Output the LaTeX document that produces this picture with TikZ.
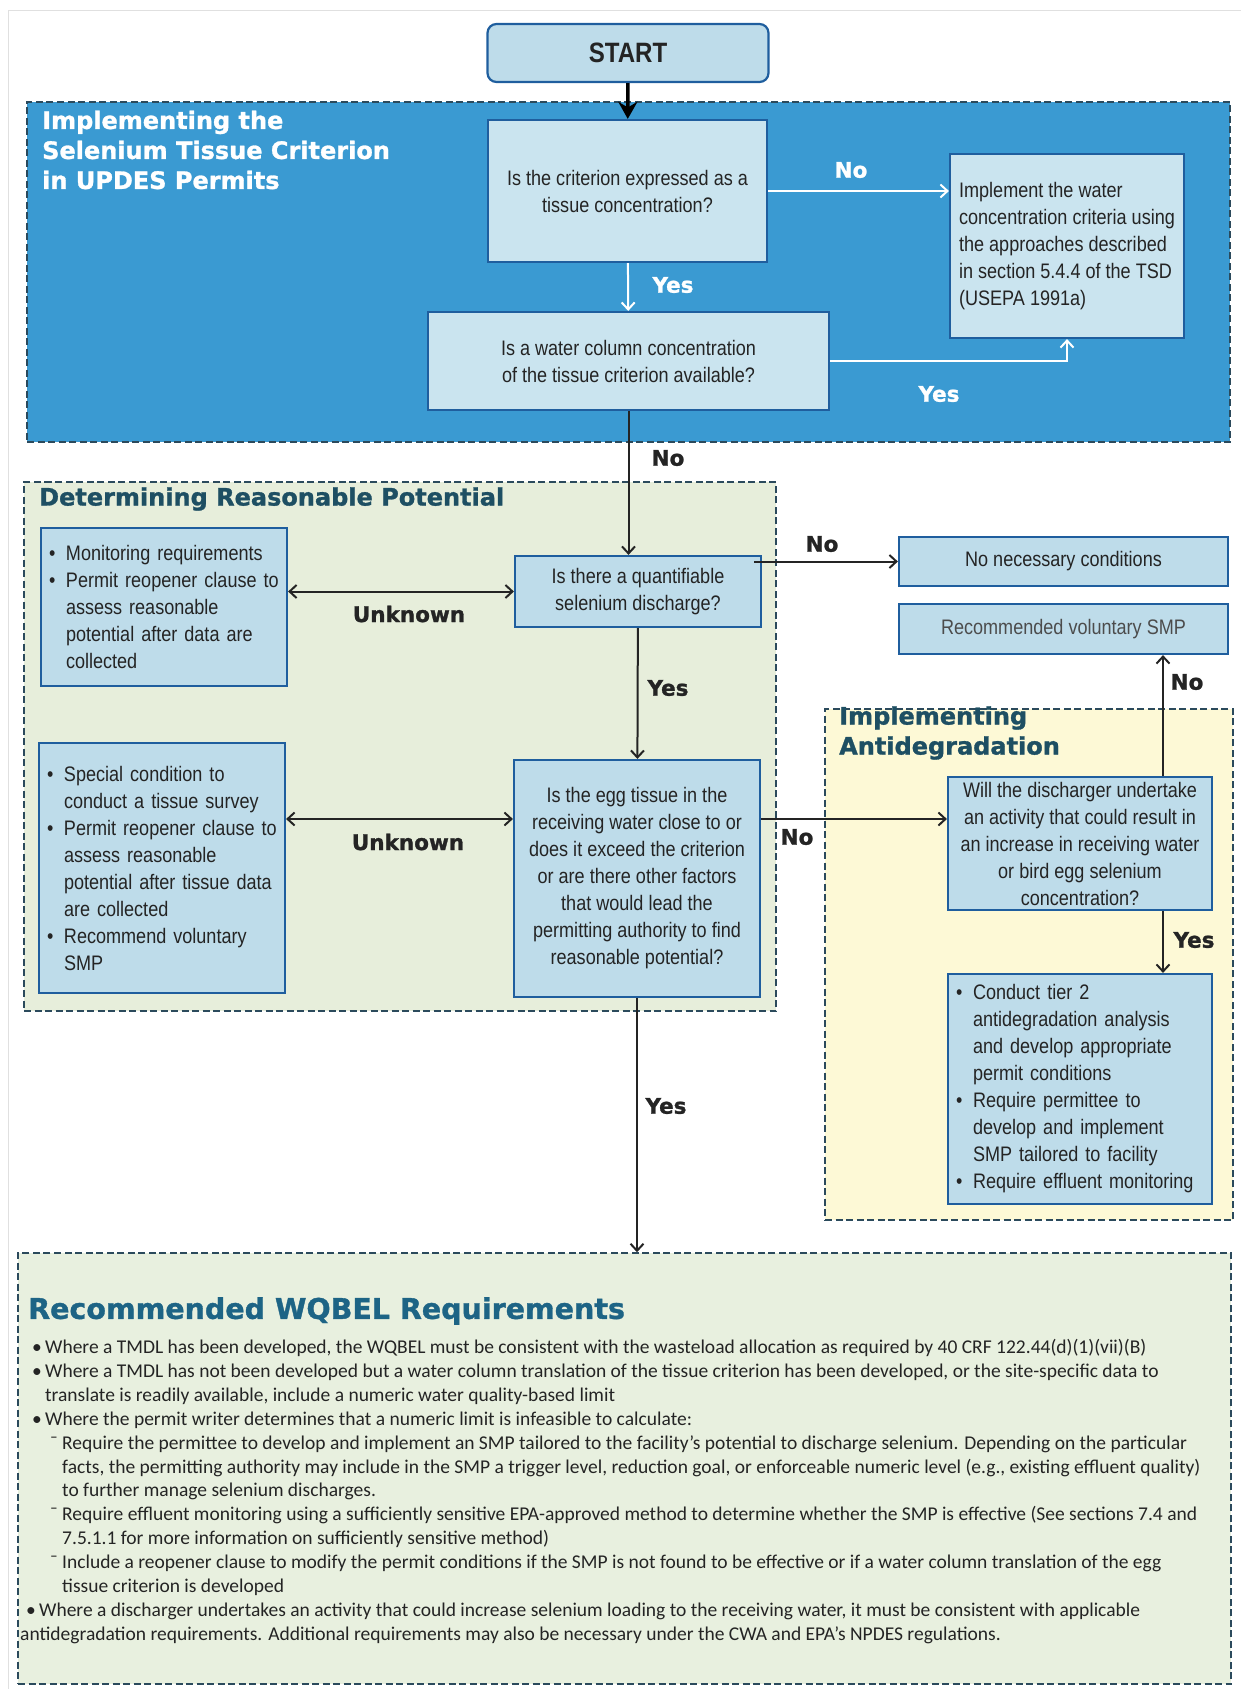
\documentclass[tikz,border=0pt]{standalone}
\usepackage{fontspec}
\setmainfont{Liberation Sans}
\newfontfamily\narrowfont[FakeStretch=0.86]{Liberation Sans}
\newfontfamily\heavyfont[BoldFeatures={FakeBold=1.2}]{DejaVu Sans}
\newfontfamily\notefont{Carlito}
\usepackage{tikz}
\usetikzlibrary{arrows.meta,positioning,calc,backgrounds}
\usepackage{xcolor}
\definecolor{regionblue}{HTML}{3A9AD2}
\definecolor{boxfill}{HTML}{BEDCEA}
\definecolor{boxfilllt}{HTML}{CAE4EF}
\definecolor{boxline}{HTML}{1F5E9E}
\definecolor{rpgreen}{HTML}{E7EEDB}
\definecolor{adyellow}{HTML}{FDF9D6}
\definecolor{wqgreen}{HTML}{E8F0DF}
\definecolor{dashline}{HTML}{2B4A5C}
\definecolor{headteal}{HTML}{1E4F63}
\definecolor{wqteal}{HTML}{1D6485}
\definecolor{inktxt}{HTML}{242424}

\newcommand{\lbul}{\makebox[17pt][l]{\textbullet}}
\newcommand{\lind}{\hspace*{17pt}}
\newcommand{\nbul}{\makebox[13pt][l]{\textbullet}}
\newcommand{\ndash}{\makebox[12pt][l]{¯}}

\begin{document}
\begin{tikzpicture}[x=1pt, y=-1pt,
    box/.style={draw=boxline, line width=2.2pt, fill=boxfill, inner sep=0pt, align=center,
        text=inktxt, font=\narrowfont\fontsize{21}{27}\selectfont},
    listbox/.style={box, align=left, inner xsep=8pt},
    region/.style={draw=dashline, line width=1.6pt, dash pattern=on 7pt off 3.5pt, inner sep=0pt},
    heading/.style={font=\heavyfont\bfseries\fontsize{24}{30}\selectfont, align=left, inner sep=0pt},
    lbl/.style={font=\heavyfont\bfseries\fontsize{21.5}{24}\selectfont, text=inktxt, inner sep=0pt},
    flow/.style={line width=2pt, draw=inktxt, -{Straight Barb[length=7pt,width=13pt]}},
    dflow/.style={line width=2pt, draw=inktxt,
        {Straight Barb[length=7pt,width=13pt]}-{Straight Barb[length=7pt,width=13pt]}},
    wflow/.style={flow, draw=white}
]
\useasboundingbox (0,0) rectangle (1241,1689);
\draw[black!12, line width=1pt] (1241,10) -- (8,10) -- (8,1689);

% Regions
\node[region, fill=regionblue, minimum width=1203pt, minimum height=340pt] (tissuereg) at (628.5,272) {};
\node[region, fill=rpgreen, minimum width=752pt, minimum height=529pt] (rpreg) at (400,746.5) {};
\node[region, fill=adyellow, minimum width=408pt, minimum height=511pt] (adreg) at (1029,964.5) {};
\node[region, fill=wqgreen, minimum width=1213pt, minimum height=431pt] (wqreg) at (624.5,1468.5) {};

% Headings
\node[heading, text=white, anchor=west] (tissuehead) at (42,150)
    {Implementing the\\Selenium Tissue Criterion\\in UPDES Permits};
\node[heading, text=headteal, anchor=west] (rphead) at (39,499) {Determining Reasonable Potential};
\node[heading, text=headteal, anchor=west] (adhead) at (839,733) {Implementing\\Antidegradation};
\node[heading, text=wqteal, anchor=west, font=\heavyfont\bfseries\fontsize{28.5}{32}\selectfont]
    (wqhead) at (28,1311) {Recommended WQBEL Requirements};

% Boxes
\node[box, rounded corners=9pt, fill=boxfill, minimum width=281pt, minimum height=58pt,
    font=\narrowfont\bfseries\fontsize{28}{30}\selectfont] (start) at (628,53) {START};
\node[box, fill=boxfilllt, minimum width=279pt, minimum height=142pt] (q1) at (627.5,191)
    {Is the criterion expressed as a\\tissue concentration?};
\node[listbox, fill=boxfilllt, minimum width=234pt, minimum height=184pt] (impl) at (1067,246)
    {Implement the water\\concentration criteria using\\the approaches described\\in section 5.4.4 of the TSD\\(USEPA 1991a)};
\node[box, fill=boxfilllt, minimum width=401pt, minimum height=98pt] (q2) at (628.5,361)
    {Is a water column concentration\\of the tissue criterion available?};
\node[box, minimum width=246pt, minimum height=71pt] (q3) at (638,591.5)
    {Is there a quantifiable\\selenium discharge?};
\node[box, minimum width=329pt, minimum height=49pt] (none) at (1063.5,561.5) {No necessary conditions};
\node[box, minimum width=329pt, minimum height=50pt, text=black!70] (recsmp) at (1063.5,629)
    {Recommended voluntary SMP};
\node[listbox, text width=230pt, minimum height=158pt] (l1) at (164,607)
    {\lbul Monitoring requirements\\\lbul Permit reopener clause to\\\lind assess reasonable\\\lind potential after data are\\\lind collected};
\node[listbox, text width=230pt, minimum height=250pt] (l2) at (162,868)
    {\lbul Special condition to\\\lind conduct a tissue survey\\\lbul Permit reopener clause to\\\lind assess reasonable\\\lind potential after tissue data\\\lind are collected\\\lbul Recommend voluntary\\\lind SMP};
\node[box, minimum width=246pt, minimum height=237pt] (q4) at (637,878.5)
    {Is the egg tissue in the\\receiving water close to or\\does it exceed the criterion\\or are there other factors\\that would lead the\\permitting authority to find\\reasonable potential?};
\node[box, minimum width=264pt, minimum height=133pt] (q5) at (1080,843.5)
    {Will the discharger undertake\\an activity that could result in\\an increase in receiving water\\or bird egg selenium\\concentration?};
\node[listbox, text width=248pt, minimum height=230pt] (adeg) at (1080,1089)
    {\lbul Conduct tier 2\\\lind antidegradation analysis\\\lind and develop appropriate\\\lind permit conditions\\\lbul Require permittee to\\\lind develop and implement\\\lind SMP tailored to facility\\\lbul Require effluent monitoring};

% Recommended requirements
\node[anchor=west, align=left, inner sep=0pt, text=inktxt, font=\notefont\fontsize{19.5}{23.9}\selectfont]
    (wqtext) at (20,1491.5) {%
\hspace*{12pt}\nbul Where a TMDL has been developed, the WQBEL must be consistent with the wasteload allocation as required by 40 CRF 122.44(d)(1)(vii)(B)\\
\hspace*{12pt}\nbul Where a TMDL has not been developed but a water column translation of the tissue criterion has been developed, or the site-specific data to\\
\hspace*{25pt}translate is readily available, include a numeric water quality-based limit\\
\hspace*{12pt}\nbul Where the permit writer determines that a numeric limit is infeasible to calculate:\\
\hspace*{30pt}\ndash Require the permittee to develop and implement an SMP tailored to the facility’s potential to discharge selenium. Depending on the particular\\
\hspace*{42pt}facts, the permitting authority may include in the SMP a trigger level, reduction goal, or enforceable numeric level (e.g., existing effluent quality)\\
\hspace*{42pt}to further manage selenium discharges.\\
\hspace*{30pt}\ndash Require effluent monitoring using a sufficiently sensitive EPA-approved method to determine whether the SMP is effective (See sections 7.4 and\\
\hspace*{42pt}7.5.1.1 for more information on sufficiently sensitive method)\\
\hspace*{30pt}\ndash Include a reopener clause to modify the permit conditions if the SMP is not found to be effective or if a water column translation of the egg\\
\hspace*{42pt}tissue criterion is developed\\
\hspace*{6pt}\nbul Where a discharger undertakes an activity that could increase selenium loading to the receiving water, it must be consistent with applicable\\
antidegradation requirements. Additional requirements may also be necessary under the CWA and EPA’s NPDES regulations.};

% Connectors
\coordinate (row) at (0,819);
\coordinate (col) at (1163,0);
\draw[line width=3.5pt, -{Stealth[length=17pt,width=19pt]}] (start) -- (q1);
\draw[wflow] (q1.east) -- (q1.east -| impl.west);
\draw[wflow] (q1) -- (q2);
\draw[wflow] (q2.east) -| (impl.south);
\draw[flow] (q2.south) -- (q2.south |- q3.north);
\draw[flow] ($(none.west -| q3.east)+(-8,0)$) -- (none.west);
\draw[dflow] (q3.west -| l1.east) -- (q3.west);
\draw[flow] (q3) -- (q4);
\draw[dflow] (row -| l2.east) -- (row -| q4.west);
\draw[flow] (row -| q4.east) -- (row -| q5.west);
\draw[flow] (col |- q5.north) -- (col |- recsmp.south);
\draw[flow] (col |- q5.south) -- (col |- adeg.north);
\draw[flow] (q4) -- (q4.south |- wqreg.north);

% Labels
\node[lbl, text=white] (nolbla) at (851,170) {No};
\node[lbl, text=white] (yeslbla) at (673,285) {Yes};
\node[lbl, text=white] (yeslblb) at (939,394) {Yes};
\node[lbl] (nolblb) at (668,458) {No};
\node[lbl] (nolblc) at (822,544) {No};
\node[lbl] (unklbla) at (409,614) {Unknown};
\node[lbl] (yeslblc) at (668,688) {Yes};
\node[lbl] (unklblb) at (408,842) {Unknown};
\node[lbl] (nolbld) at (797,837) {No};
\node[lbl] (nolble) at (1187,682) {No};
\node[lbl] (yeslbld) at (1194,940) {Yes};
\node[lbl] (yeslble) at (666,1106) {Yes};
\end{tikzpicture}
\end{document}
